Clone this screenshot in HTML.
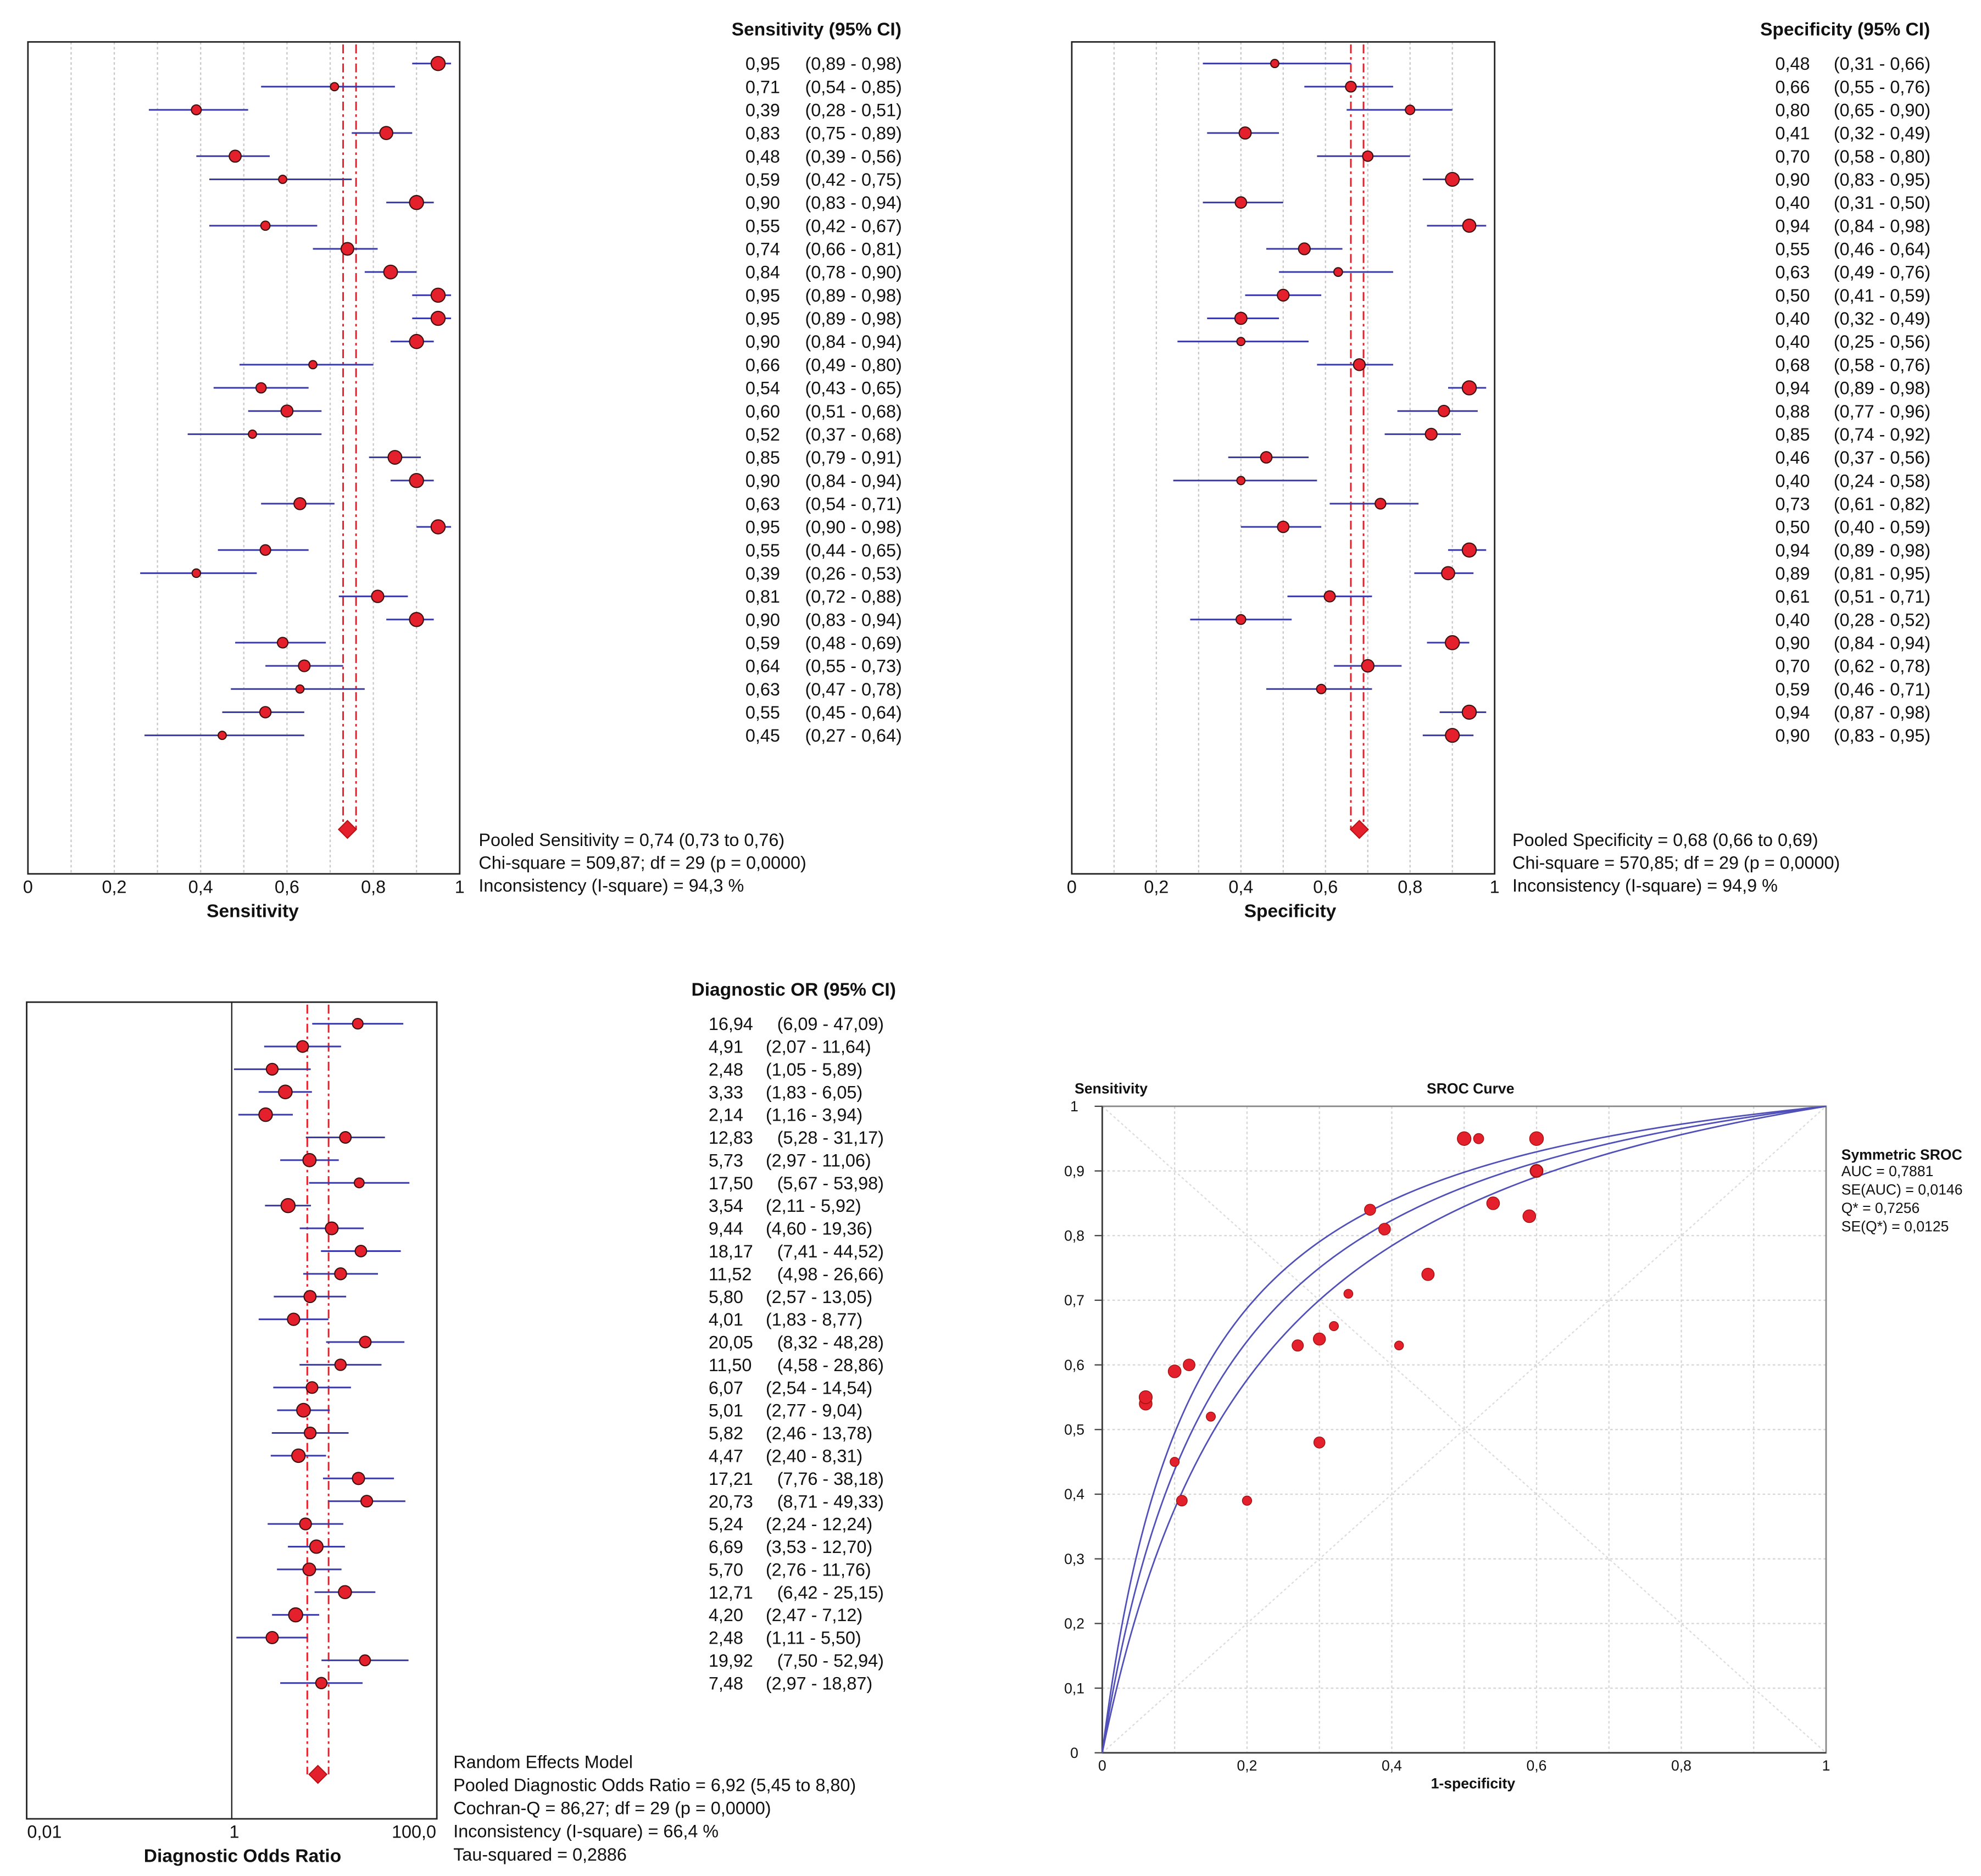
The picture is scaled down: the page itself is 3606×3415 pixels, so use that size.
<!DOCTYPE html>
<html><head><meta charset="utf-8">
<style>
html,body{margin:0;padding:0;background:#fff;}
svg{display:block;}
text{font-family:"Liberation Sans",Arial,sans-serif;fill:#111;}
</style></head>
<body>
<svg id="chart" width="3606" height="3415" viewBox="0 0 1560 1477" preserveAspectRatio="none" xmlns="http://www.w3.org/2000/svg"></svg>
<script>
// ---------- data ----------
const sensVal=[0.95,0.71,0.39,0.83,0.48,0.59,0.90,0.55,0.74,0.84,0.95,0.95,0.90,0.66,0.54,0.60,0.52,0.85,0.90,0.63,0.95,0.55,0.39,0.81,0.90,0.59,0.64,0.63,0.55,0.45];
const sensLo=[0.89,0.54,0.28,0.75,0.39,0.42,0.83,0.42,0.66,0.78,0.89,0.89,0.84,0.49,0.43,0.51,0.37,0.79,0.84,0.54,0.90,0.44,0.26,0.72,0.83,0.48,0.55,0.47,0.45,0.27];
const sensHi=[0.98,0.85,0.51,0.89,0.56,0.75,0.94,0.67,0.81,0.90,0.98,0.98,0.94,0.80,0.65,0.68,0.68,0.91,0.94,0.71,0.98,0.65,0.53,0.88,0.94,0.69,0.73,0.78,0.64,0.64];
const specVal=[0.48,0.66,0.80,0.41,0.70,0.90,0.40,0.94,0.55,0.63,0.50,0.40,0.40,0.68,0.94,0.88,0.85,0.46,0.40,0.73,0.50,0.94,0.89,0.61,0.40,0.90,0.70,0.59,0.94,0.90];
const specLo=[0.31,0.55,0.65,0.32,0.58,0.83,0.31,0.84,0.46,0.49,0.41,0.32,0.25,0.58,0.89,0.77,0.74,0.37,0.24,0.61,0.40,0.89,0.81,0.51,0.28,0.84,0.62,0.46,0.87,0.83];
const specHi=[0.66,0.76,0.90,0.49,0.80,0.95,0.50,0.98,0.64,0.76,0.59,0.49,0.56,0.76,0.98,0.96,0.92,0.56,0.58,0.82,0.59,0.98,0.95,0.71,0.52,0.94,0.78,0.71,0.98,0.95];
const dorVal=[16.94,4.91,2.48,3.33,2.14,12.83,5.73,17.50,3.54,9.44,18.17,11.52,5.80,4.01,20.05,11.50,6.07,5.01,5.82,4.47,17.21,20.73,5.24,6.69,5.70,12.71,4.20,2.48,19.92,7.48];
const dorLo=[6.09,2.07,1.05,1.83,1.16,5.28,2.97,5.67,2.11,4.60,7.41,4.98,2.57,1.83,8.32,4.58,2.54,2.77,2.46,2.40,7.76,8.71,2.24,3.53,2.76,6.42,2.47,1.11,7.50,2.97];
const dorHi=[47.09,11.64,5.89,6.05,3.94,31.17,11.06,53.98,5.92,19.36,44.52,26.66,13.05,8.77,48.28,28.86,14.54,9.04,13.78,8.31,38.18,49.33,12.24,12.70,11.76,25.15,7.12,5.50,52.94,18.87];
const pooledSens=[0.74,0.73,0.76];
const pooledSpec=[0.68,0.66,0.69];
const pooledDor=[6.92,5.45,8.80];
const linTicks=[0,0.2,0.4,0.6,0.8,1];
const linTickLabels=["0","0,2","0,4","0,6","0,8","1"];
const srocTicks=[0,0.1,0.2,0.3,0.4,0.5,0.6,0.7,0.8,0.9,1];
const srocYLabels=["0","0,1","0,2","0,3","0,4","0,5","0,6","0,7","0,8","0,9","1"];
const srocXLabels=["0","0,2","0,4","0,6","0,8","1"];
const srocXTicks=[0,0.2,0.4,0.6,0.8,1];
const srocLogDor=[1.946,1.696,2.175];

const svg=document.getElementById('chart');
const NS='http://www.w3.org/2000/svg';
function el(tag,attrs,parent){const e=document.createElementNS(NS,tag);for(const k in attrs)e.setAttribute(k,attrs[k]);(parent||svg).appendChild(e);return e;}
function txt(x,y,s,size,anchor,bold,parent){const t=el('text',{x:x,y:y,'font-size':size,'text-anchor':anchor||'start'},parent);if(bold)t.setAttribute('font-weight','bold');t.textContent=s;return t;}
const fmt=v=>v.toFixed(2).replace('.',',');
const RED='#e3202b', BLUE='#3a3aa8';

function radius(lo,hi,scale){const w=Math.abs(scale(hi)-scale(lo));return Math.max(3.2,Math.min(5.5,7-w/25));}

function forest(opt){
  const g=el('g',{});
  
  
  const {x0,x1,y0,y1,scale,rowY}=opt;
  if(opt.grid){for(let v=0.1;v<0.95;v+=0.1){const gl=el('line',{x1:scale(v),x2:scale(v),y1:y0,y2:y1,stroke:'#c8c8c8','stroke-dasharray':'2,2','stroke-width':1},g);}}
  if(opt.refLine){const rl=el('line',{x1:scale(1),x2:scale(1),y1:y0,y2:y1,stroke:'#222','stroke-width':1},g);}
  const fr=el('rect',{x:x0,y:y0,width:x1-x0,height:y1-y0,fill:'none',stroke:'#222','stroke-width':1.2},g);
  
  [opt.pooled[1],opt.pooled[2]].forEach(v=>{const pl=el('line',{x1:scale(v),x2:scale(v),y1:y0+2,y2:opt.diamondY,stroke:RED,'stroke-width':1.3,'stroke-dasharray':'7,3,2,3'},g);});
  opt.val.forEach((v,i)=>{
    const y=rowY(i);
    const ln=el('line',{x1:scale(opt.lo[i]),x2:scale(opt.hi[i]),y1:y,y2:y,stroke:BLUE,'stroke-width':1.3},g);
    
    const c=el('circle',{cx:scale(v),cy:y,r:radius(opt.lo[i],opt.hi[i],scale),fill:RED,stroke:'#3a1010','stroke-width':0.9},g);
    
    const t=txt(opt.textX,y+5,fmt(v),14,'start',false,g);
    
    const ciX=opt.ciX+(v>=10?opt.ciWide:0);
    const t2=txt(ciX,y+5,'('+fmt(opt.lo[i])+' - '+fmt(opt.hi[i])+')',14,'start',false,g);
    
  });
  const px=scale(opt.pooled[0]),dy=opt.diamondY;
  const dm=el('polygon',{points:`${px},${dy-7} ${px+7},${dy} ${px},${dy+7} ${px-7},${dy}`,fill:RED,stroke:'#b01010','stroke-width':0.8},g);
  
  opt.ticks.forEach((v,i)=>{
    const tl=txt(scale(v)+(opt.tickDx?opt.tickDx[i]:0),y1+15,opt.tickLabels[i],14,'middle',false,g);
    
  });
  const at=txt(opt.titleX,y1+34,opt.title,14.5,'middle',true,g);
  
  const hd=txt(opt.headX,opt.headY,opt.head,14.5,'middle',true,g);
  
  opt.stats.forEach((s,i)=>{const st=txt(opt.statsX,opt.statsY+i*opt.statsDy,s,14,'start',false,g);});
}

forest({name:'sensitivity-forest-plot',x0:22,x1:362,y0:33,y1:688,scale:v=>22+v*340,rowY:i=>50+i*18.24,grid:true,
  val:sensVal,lo:sensLo,hi:sensHi,pooled:pooledSens,diamondY:653,textX:587,ciX:634,ciWide:0,
  ticks:linTicks,tickLabels:linTickLabels,title:'Sensitivity',titleX:199,head:'Sensitivity (95% CI)',headX:643,headY:28,
  stats:['Pooled Sensitivity = 0,74 (0,73 to 0,76)','Chi-square = 509,87; df =  29 (p = 0,0000)','Inconsistency (I-square) = 94,3 %'],statsX:377,statsY:666,statsDy:18});
forest({name:'specificity-forest-plot',x0:844,x1:1177,y0:33,y1:688,scale:v=>844+v*333,rowY:i=>50+i*18.24,grid:true,
  val:specVal,lo:specLo,hi:specHi,pooled:pooledSpec,diamondY:653,textX:1398,ciX:1444,ciWide:0,
  ticks:linTicks,tickLabels:linTickLabels,title:'Specificity',titleX:1016,head:'Specificity (95% CI)',headX:1453,headY:28,
  stats:['Pooled Specificity = 0,68 (0,66 to 0,69)','Chi-square = 570,85; df =  29 (p = 0,0000)','Inconsistency (I-square) = 94,9 %'],statsX:1191,statsY:666,statsDy:18});
const dorScale=v=>182.5+Math.log10(v)*80.75;
forest({name:'dor-forest-plot',x0:21,x1:344,y0:789,y1:1432,scale:dorScale,rowY:i=>806+i*17.9,grid:false,refLine:true,
  val:dorVal,lo:dorLo,hi:dorHi,pooled:pooledDor,diamondY:1397,textX:558,ciX:603,ciWide:9,
  ticks:[0.01,1,100],tickLabels:['0,01','1','100,0'],tickDx:[14,2,-18],title:'Diagnostic Odds Ratio',titleX:191,head:'Diagnostic OR (95% CI)',headX:625,headY:784,
  stats:['Random Effects Model','Pooled Diagnostic Odds Ratio = 6,92 (5,45 to 8,80)','Cochran-Q = 86,27; df =  29 (p = 0,0000)','Inconsistency (I-square) = 66,4 %','Tau-squared = 0,2886'],statsX:357,statsY:1392,statsDy:18.2});

(function(){
  const g=el('g',{});
  
  const X0=868,X1=1438,Y0=871,Y1=1380;
  const sx=v=>X0+v*(X1-X0), sy=v=>Y1-v*(Y1-Y0);
  srocTicks.forEach(v=>{
    if(v>0&&v<1){
      const a=el('line',{x1:sx(v),x2:sx(v),y1:Y0,y2:Y1,stroke:'#d6d6d6','stroke-dasharray':'2,2'},g);
      const b=el('line',{x1:X0,x2:X1,y1:sy(v),y2:sy(v),stroke:'#d6d6d6','stroke-dasharray':'2,2'},g);
    }
  });
  const d1=el('line',{x1:sx(0),y1:sy(0),x2:sx(1),y2:sy(1),stroke:'#dcdcdc','stroke-dasharray':'2,2'},g);
  const d2=el('line',{x1:sx(0),y1:sy(1),x2:sx(1),y2:sy(0),stroke:'#dcdcdc','stroke-dasharray':'2,2'},g);
  const fr=el('rect',{x:X0,y:Y0,width:X1-X0,height:Y1-Y0,fill:'none',stroke:'#888','stroke-width':1.2},g);
  
  el('line',{x1:X0,x2:X1,y1:Y1,y2:Y1,stroke:'#444','stroke-width':1.3},g);
  el('line',{x1:X0,x2:X0,y1:Y0,y2:Y1,stroke:'#444','stroke-width':1.3},g);
  srocTicks.forEach((v,i)=>{
    el('line',{x1:X0-6,x2:X0,y1:sy(v),y2:sy(v),stroke:'#444'},g);
    const t=txt(X0-22,sy(v)+4,srocYLabels[i],11.5,'middle',false,g);
  });
  srocXTicks.forEach((v,i)=>{
    const t=txt(sx(v),Y1+14,srocXLabels[i],11.5,'middle',false,g);
  });
  srocLogDor.forEach((a,k)=>{
    let d='';
    for(let j=0;j<=300;j++){
      const f=Math.pow(j/300,3);
      let tpr;
      if(f<=0)tpr=0;else if(f>=1)tpr=1;else{const l=Math.log(f/(1-f))+a;tpr=1/(1+Math.exp(-l));}
      d+=(j?'L':'M')+sx(f).toFixed(2)+','+sy(tpr).toFixed(2);
    }
    const p=el('path',{d:d,fill:'none',stroke:'#5050b8','stroke-width':1.2},g);
    
  });
  sensVal.forEach((s,i)=>{
    const c=el('circle',{cx:sx(1-specVal[i]),cy:sy(s),r:Math.max(3.5,Math.min(5.5,7.5-((sensHi[i]-sensLo[i])+(specHi[i]-specLo[i]))*8)),fill:RED,stroke:'#a01010','stroke-width':0.6},g);
    
  });
  const t1=txt(875,861,'Sensitivity',11.5,'middle',true,g);
  const t2=txt(1158,861,'SROC Curve',11.5,'middle',true,g);
  const t3=txt(1160,1408,'1-specificity',11.5,'middle',true,g);
  const leg=['AUC = 0,7881','SE(AUC) = 0,0146','Q* = 0,7256','SE(Q*) = 0,0125'];
  const lh=txt(1450,913,'Symmetric SROC',11.5,'start',true,g);
  leg.forEach((s,i)=>{const t=txt(1450,926+i*14.5,s,11.5,'start',false,g);});
})();
</script>
</body></html>
